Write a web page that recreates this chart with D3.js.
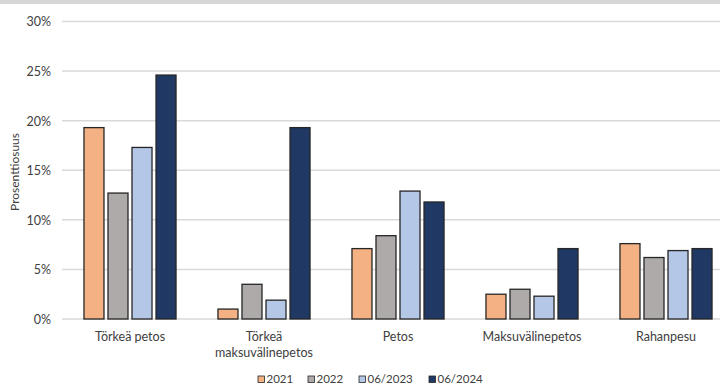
<!DOCTYPE html>
<html>
<head>
<meta charset="utf-8">
<script src="https://cdn.jsdelivr.net/npm/d3@7"></script>
<style>
  html, body { margin: 0; padding: 0; background: #fff; }
  svg { display: block; }
  text { font-family: Lato, "Open Sans", sans-serif; fill: #404040; }
</style>
</head>
<body>
<svg id="chart" width="720" height="385"></svg>
<script>
const categories = ["Törkeä petos", "Törkeä maksuvälinepetos", "Petos", "Maksuvälinepetos", "Rahanpesu"];
const categoryLines = [["Törkeä petos"], ["Törkeä", "maksuvälinepetos"], ["Petos"], ["Maksuvälinepetos"], ["Rahanpesu"]];
const seriesNames = ["2021", "2022", "06/2023", "06/2024"];
const values2021 = [19.3, 1.0, 7.1, 2.5, 7.6];
const values2022 = [12.7, 3.5, 8.4, 3.0, 6.2];
const values2023 = [17.3, 1.9, 12.9, 2.3, 6.9];
const values2024 = [24.6, 19.3, 11.8, 7.1, 7.1];
const yTicks = [0, 5, 10, 15, 20, 25, 30];
const colors = ["#F4B183", "#AEAAAA", "#B4C7E7", "#1F3864"];

const seriesValues = [values2021, values2022, values2023, values2024];
const rows = categories.map((c, i) => ({ cat: c, vals: seriesValues.map(s => s[i]) }));

const svg = d3.select("#chart");

// top gray band
svg.append("rect").attr("x", 0).attr("y", 0).attr("width", 720).attr("height", 4).attr("fill", "#d6d6d6");

const y = d3.scaleLinear().domain([0, 30]).range([319, 21.5]);
const x = d3.scaleBand().domain(categories).range([63, 733]).paddingInner(0.313).paddingOuter(0.1565);
const xs = d3.scaleBand().domain(seriesNames).range([0, x.bandwidth()]).paddingInner(1/6).paddingOuter(0);

// gridlines
svg.append("g").selectAll("line").data(yTicks).join("line")
  .attr("x1", 62).attr("x2", 720)
  .attr("y1", d => y(d)).attr("y2", d => y(d))
  .attr("stroke", "#d9d9d9").attr("stroke-width", 1.5);

// y tick labels via axis
const yAxis = d3.axisLeft(y).tickValues(yTicks).tickFormat(d => d + "%").tickSize(0).tickPadding(0);
const yg = svg.append("g").attr("transform", "translate(51,0)").call(yAxis);
yg.select(".domain").remove();
yg.selectAll("text").attr("font-size", 12.5).attr("fill", "#595959")
  .style("font-family", "Lato, sans-serif").attr("dy", "0.35em");

// y title
svg.append("text").attr("transform", "translate(19,172) rotate(-90)")
  .attr("text-anchor", "middle").attr("font-size", 12).attr("fill", "#404040")
  .text("Prosenttiosuus");

// bars
const groups = svg.append("g").selectAll("g").data(rows).join("g")
  .attr("transform", d => `translate(${x(d.cat)},0)`);
groups.selectAll("rect").data(d => d.vals.map((v, i) => ({ v, s: seriesNames[i], i }))).join("rect")
  .attr("x", d => xs(d.s))
  .attr("width", xs.bandwidth())
  .attr("y", d => y(d.v))
  .attr("height", d => y(0) - y(d.v))
  .attr("fill", d => colors[d.i])
  .attr("stroke", "#262626").attr("stroke-width", 1.3);

// x labels
const xl = svg.append("g").selectAll("text").data(categories).join("text")
  .attr("x", d => x(d) + x.bandwidth() / 2)
  .attr("y", 341)
  .attr("text-anchor", "middle").attr("font-size", 12.5).attr("fill", "#404040");
xl.each(function(d, i) {
  const t = d3.select(this);
  categoryLines[i].forEach((ln, j) => {
    t.append("tspan").attr("x", x(d) + x.bandwidth() / 2).attr("dy", j === 0 ? 0 : 16).text(ln);
  });
});

// legend
const legendX = [258, 308, 359, 429];
const lg = svg.append("g").selectAll("g").data(seriesNames).join("g")
  .attr("transform", (d, i) => `translate(${legendX[i]},379)`);
lg.append("rect").attr("x", 0).attr("y", -3).attr("width", 6.5).attr("height", 6.5)
  .attr("fill", (d, i) => colors[i]).attr("stroke", "#262626").attr("stroke-width", 0.8);
lg.append("text").attr("x", 8.5).attr("y", 4.2)
  .attr("font-size", 11.5).attr("fill", "#404040").text(d => d);
</script>
</body>
</html>
